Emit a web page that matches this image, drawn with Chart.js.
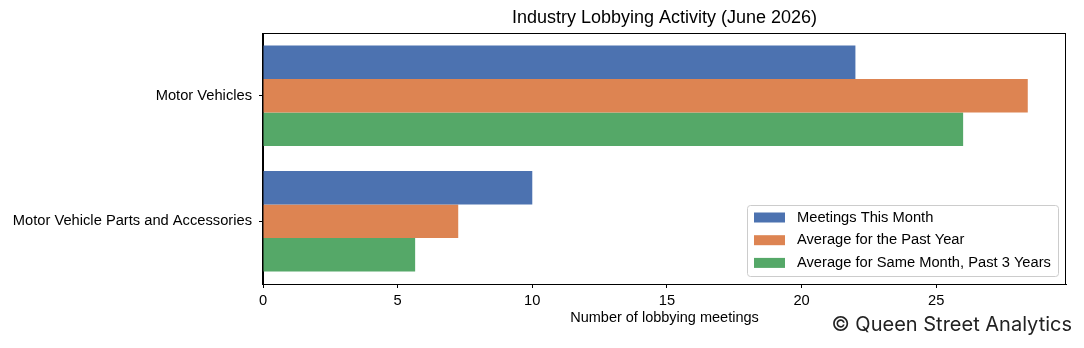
<!DOCTYPE html>
<html>
<head>
<meta charset="utf-8">
<script src="https://cdn.jsdelivr.net/npm/chart.js@4/dist/chart.umd.min.js"></script>
<style>
  html, body { margin: 0; padding: 0; background: #fff; }
  #wrap { width: 1084px; height: 348px; position: relative; }
</style>
</head>
<body>
<div id="wrap"><canvas id="lobby"></canvas></div>

<script>
// chart data
var chartTitle = 'Industry Lobbying Activity (June 2026)';
var categories = ['Motor Vehicles', 'Motor Vehicle Parts and Accessories'];
var seriesNames = ['Meetings This Month', 'Average for the Past Year', 'Average for Same Month, Past 3 Years'];
var meetingsThisMonth = [22, 10];
var avgPastYear = [28.4, 7.25];
var avgSameMonth = [26, 5.65];
var xTicks = [0, 5, 10, 15, 20, 25];
var xMax = 29.82;

var colors = ['#4C72B0', '#DD8452', '#55A868'];
var baseFont = "'Liberation Sans', Arial, sans-serif";

Chart.defaults.font.family = baseFont;
Chart.defaults.color = '#000';

// title over the plot, frame, legend inside the plot, watermark
var extras = {
  id: 'extras',
  afterDraw: function(chart) {
    var ctx = chart.ctx;
    var a = chart.chartArea;
    ctx.save();
    ctx.strokeStyle = '#000';
    ctx.lineWidth = 1;
    ctx.strokeRect(a.left - 0.5, a.top + 0.5, a.right - a.left, a.bottom - a.top);

    ctx.font = '18px ' + baseFont;
    ctx.fillStyle = '#000';
    ctx.textAlign = 'center';
    ctx.textBaseline = 'middle';
    ctx.fillText(chartTitle, (a.left + a.right) / 2, 18);

    // legend box
    var w = 311, h = 71;
    var x0 = a.right - 8 - w, y0 = a.bottom - 8 - h;
    ctx.beginPath();
    ctx.roundRect(x0 + 0.5, y0 + 0.5, w, h, 3);
    ctx.fillStyle = 'rgba(255,255,255,0.8)';
    ctx.fill();
    ctx.strokeStyle = '#cccccc';
    ctx.stroke();

    ctx.font = '14.7px ' + baseFont;
    ctx.textAlign = 'left';
    chart.data.datasets.forEach(function(ds, i) {
      var cy = y0 + 12.5 + i * 22.7;
      ctx.fillStyle = ds.backgroundColor;
      ctx.fillRect(x0 + 7, cy - 5, 31, 10);
      ctx.fillStyle = '#000';
      ctx.fillText(ds.label, x0 + 50, cy);
    });

    ctx.font = "20px Inter, 'Noto Sans', sans-serif";
    ctx.fillStyle = '#222';
    ctx.textAlign = 'right';
    ctx.fillText('\u00A9 Queen Street Analytics', 1072, 325);
    ctx.restore();
  }
};

new Chart(document.getElementById('lobby'), {
  type: 'bar',
  data: {
    labels: categories,
    datasets: [
      { label: seriesNames[0], data: meetingsThisMonth, backgroundColor: colors[0] },
      { label: seriesNames[1], data: avgPastYear, backgroundColor: colors[1] },
      { label: seriesNames[2], data: avgSameMonth, backgroundColor: colors[2] }
    ]
  },
  options: {
    indexAxis: 'y',
    responsive: true,
    maintainAspectRatio: false,
    animation: false,
    layout: { padding: { top: 33, right: 18, bottom: 0, left: 0 } },
    datasets: { bar: { barPercentage: 1, categoryPercentage: 0.8, borderWidth: 0 } },
    plugins: {
      legend: { display: false },
      tooltip: { enabled: false },
      title: { display: false }
    },
    scales: {
      x: {
        min: 0,
        max: xMax,
        afterFit: function(s) { s.height = 64; },
        afterBuildTicks: function(s) { s.ticks = xTicks.map(function(v) { return { value: v }; }); },
        grid: { drawOnChartArea: false, tickLength: 4, tickColor: '#000' },
        border: { color: '#000' },
        ticks: { font: { size: 14.7 }, color: '#000', padding: 4, maxRotation: 0 },
        title: {
          display: true,
          text: 'Number of lobbying meetings',
          color: '#000',
          font: { size: 14.5 },
          padding: { top: 0, bottom: 21 }
        }
      },
      y: {
        offset: true,
        afterFit: function(s) { s.width = 263; },
        grid: { drawOnChartArea: false, tickLength: 4, tickColor: '#000', offset: false },
        border: { color: '#000' },
        ticks: { font: { size: 14.7 }, color: '#000', padding: 7 }
      }
    }
  },
  plugins: [extras]
});
</script>
</body>
</html>
